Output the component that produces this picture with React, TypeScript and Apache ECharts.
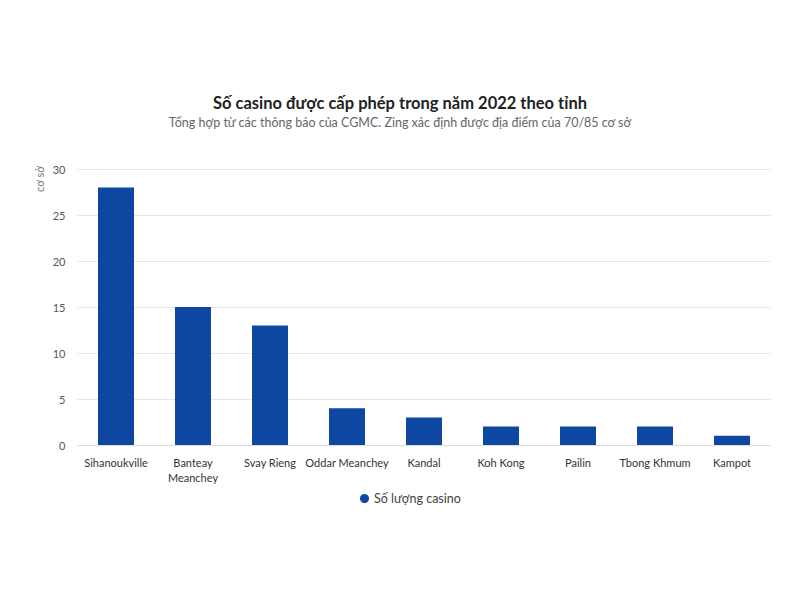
import React, { useEffect, useRef } from "react";
import * as echarts from "echarts";

const categories = ["Sihanoukville", "Banteay\nMeanchey", "Svay Rieng", "Oddar Meanchey", "Kandal", "Koh Kong", "Pailin", "Tbong Khmum", "Kampot"];
const values = [28, 15, 13, 4, 3, 2, 2, 2, 1];
const seriesName = "Số lượng casino";

export default function App() {
  const ref = useRef<HTMLDivElement>(null);
  useEffect(() => {
    const chart = echarts.init(ref.current!, null, { renderer: "svg" });
    const font = "Lato, 'Noto Sans', sans-serif";
    chart.setOption({
      animation: false,
      textStyle: { fontFamily: font },
      title: {
        text: "Số casino được cấp phép trong năm 2022 theo tỉnh",
        subtext: "Tổng hợp từ các thông báo của CGMC. Zing xác định được địa điểm của 70/85 cơ sở",
        left: "center",
        top: 81,
        itemGap: 5,
        textStyle: { fontSize: 16.5, fontWeight: "bold", color: "#222", fontFamily: font },
        subtextStyle: { fontSize: 12.5, color: "#666", fontFamily: font },
      },
      legend: {
        bottom: 82,
        left: 347,
        icon: "circle",
        itemWidth: 9,
        itemHeight: 9,
        itemGap: 6,
        textStyle: { fontSize: 12.5, color: "#444", fontFamily: font },
        data: [seriesName],
      },
      grid: { left: 69.5, right: 21.5, top: 161, bottom: 147, containLabel: false },
      xAxis: {
        type: "category",
        data: categories,
        axisLine: { show: true, lineStyle: { color: "#ddd" } },
        axisTick: { show: false },
        axisLabel: { color: "#333", fontSize: 11, interval: 0, margin: 10, lineHeight: 15 },
      },
      yAxis: {
        type: "value",
        min: 0,
        max: 30,
        interval: 5,
        axisLine: { show: false },
        axisTick: { show: false },
        axisLabel: { color: "#555", fontSize: 11, margin: 12 },
        splitLine: { lineStyle: { color: "#e6e6e6" } },
      },
      graphic: [
        {
          type: "text",
          x: 26,
          y: 184,
          rotation: Math.PI / 2,
          style: { text: "cơ sở", fontSize: 11, fill: "#777", fontFamily: font },
        },
      ],
      series: [
        {
          name: seriesName,
          type: "bar",
          data: values,
          barWidth: 36,
          itemStyle: { color: "#0d47a1" },
        },
      ],
    });
    return () => chart.dispose();
  }, []);
  return <div ref={ref} style={{ width: 784, height: 584 }} />;
}
